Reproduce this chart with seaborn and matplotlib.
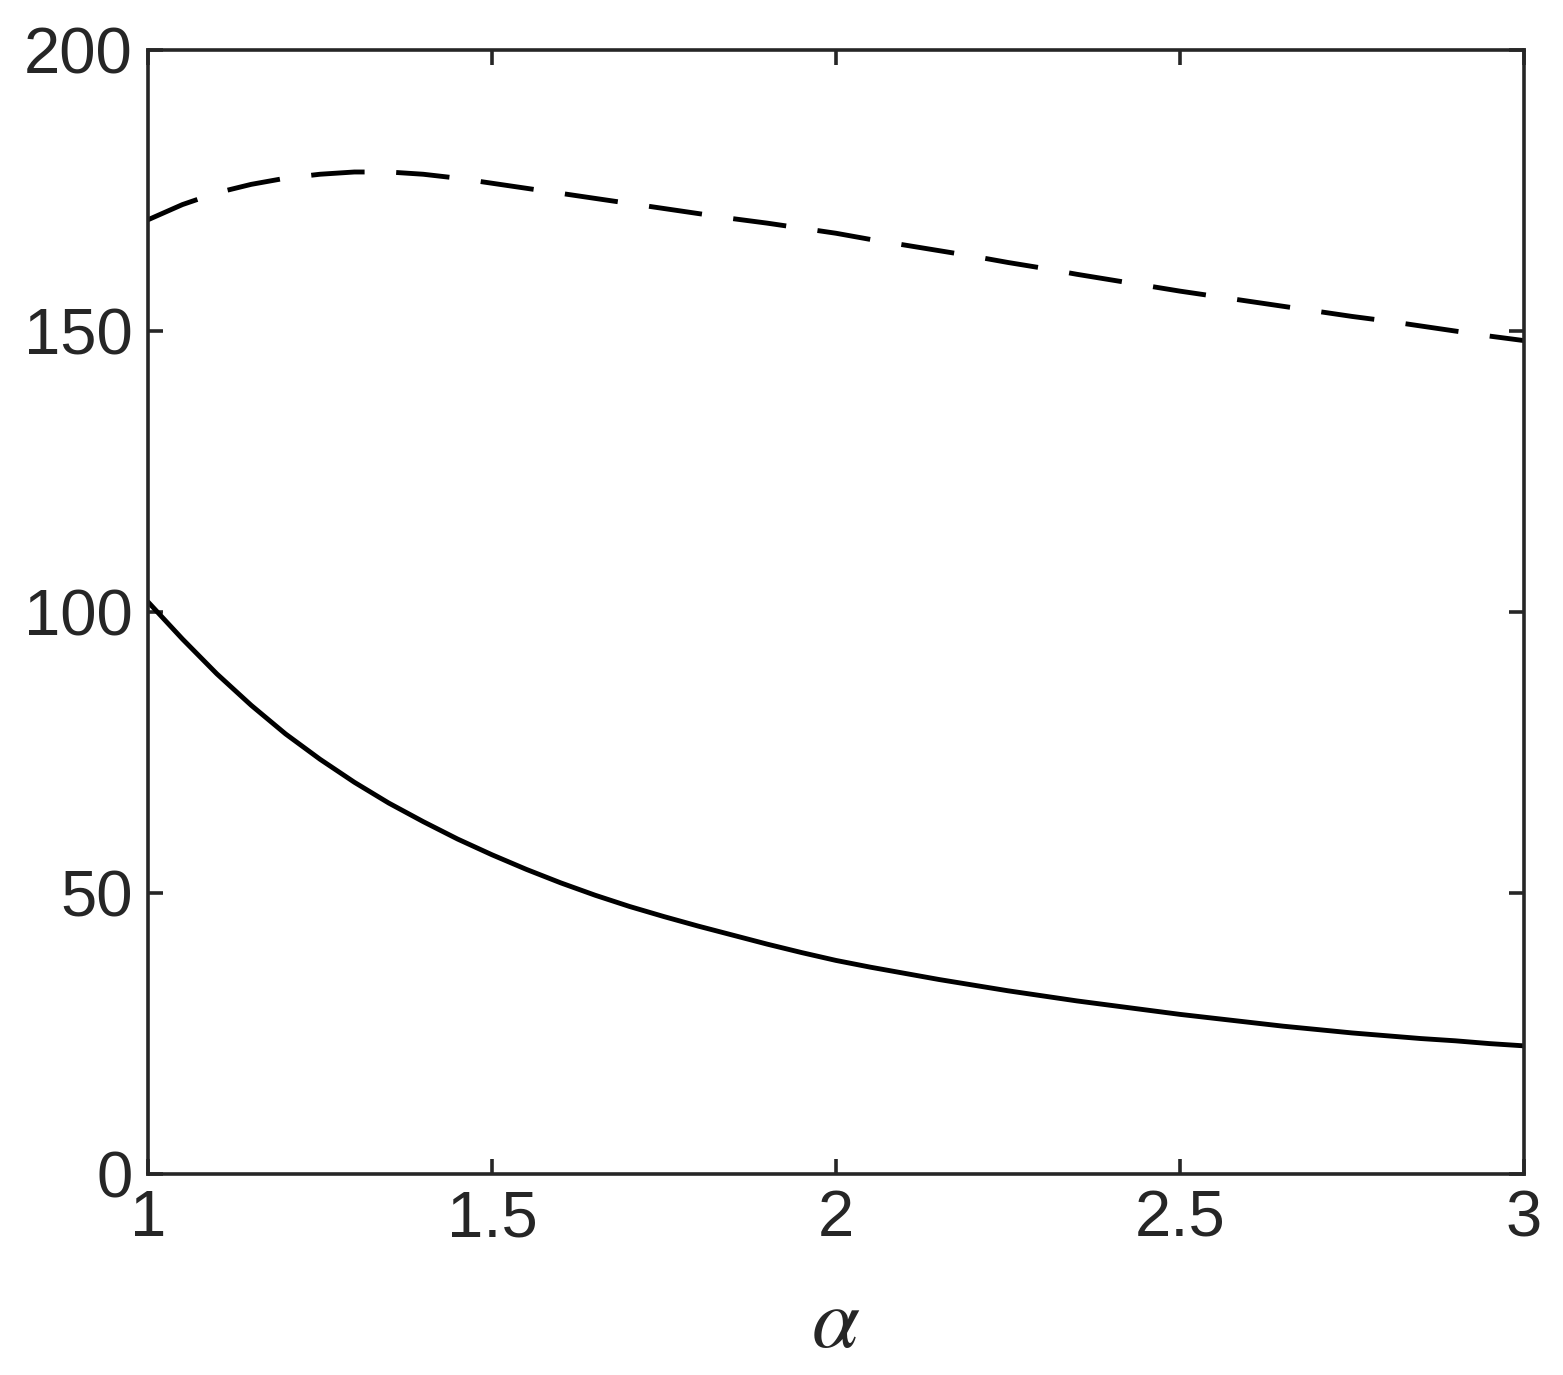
import numpy as np
import pandas as pd
import matplotlib
matplotlib.use("Agg")
import matplotlib.pyplot as plt
import seaborn as sns

# values (step 0.05)
alpha = [1.00, 1.05, 1.10, 1.15, 1.20, 1.25, 1.30, 1.35, 1.40, 1.45, 1.50,
         1.55, 1.60, 1.65, 1.70, 1.75, 1.80, 1.85, 1.90, 1.95, 2.00,
         2.05, 2.10, 2.15, 2.20, 2.25, 2.30, 2.35, 2.40, 2.45, 2.50,
         2.55, 2.60, 2.65, 2.70, 2.75, 2.80, 2.85, 2.90, 2.95, 3.00]
solid_vals = [101.8, 95.2, 89.0, 83.4, 78.3, 73.8, 69.7, 66.0, 62.7, 59.6, 56.8,
              54.2, 51.8, 49.6, 47.6, 45.8, 44.1, 42.5, 40.9, 39.4, 38.0,
              36.8, 35.7, 34.6, 33.6, 32.6, 31.7, 30.8, 30.0, 29.2, 28.4,
              27.7, 27.0, 26.3, 25.7, 25.1, 24.6, 24.1, 23.7, 23.2, 22.8]
dashed_vals = [169.8, 172.5, 174.6, 176.1, 177.2, 177.9, 178.3, 178.3, 177.9, 177.2, 176.3,
               175.4, 174.5, 173.6, 172.7, 171.8, 170.9, 170.0, 169.2, 168.3, 167.4,
               166.3, 165.3, 164.3, 163.3, 162.2, 161.2, 160.1, 159.1, 158.1, 157.1,
               156.2, 155.3, 154.4, 153.5, 152.6, 151.8, 150.9, 150.0, 149.1, 148.3]
x_ticks = [1, 1.5, 2, 2.5, 3]
x_ticklabels = ["1", "1.5", "2", "2.5", "3"]
y_ticks = [0, 50, 100, 150, 200]

df = pd.DataFrame({
    "alpha": alpha * 2,
    "value": solid_vals + dashed_vals,
    "curve": ["solid"] * len(alpha) + ["dashed"] * len(alpha),
})

sns.set_style("white")
plt.rcParams["font.family"] = ["Liberation Sans", "DejaVu Sans"]
plt.rcParams["mathtext.fontset"] = "stix"

fig = plt.figure(figsize=(15.63, 13.75), dpi=100)
ax = fig.add_axes([0.0947, 0.1462, 0.9750 - 0.0947, 0.9636 - 0.1462])

sns.lineplot(data=df, x="alpha", y="value", style="curve",
             dashes={"solid": "", "dashed": (11, 6.5)},
             color="black", linewidth=3.5, legend=False, ax=ax)

ax.set_xlim(1, 3)
ax.set_ylim(0, 200)
ax.set_xticks(x_ticks)
ax.set_xticklabels(x_ticklabels)
ax.set_yticks(y_ticks)

dark = "#262626"
for s in ax.spines.values():
    s.set_visible(True)
    s.set_color(dark)
    s.set_linewidth(2.6)
ax.tick_params(direction="in", length=11, width=2.6, colors=dark,
               labelsize=47, pad=11, top=True, right=True,
               bottom=True, left=True)
ax.set_xlabel(r"$\alpha$", fontsize=62, color=dark, labelpad=26)
ax.set_ylabel("")

fig.savefig("out.png", dpi=100)
